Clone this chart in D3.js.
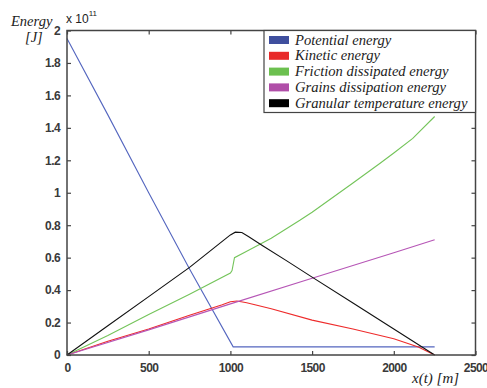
<!DOCTYPE html>
<html><head><meta charset="utf-8">
<script src="https://cdn.jsdelivr.net/npm/d3@7"></script>
<style>body{margin:0;background:#fff}svg{display:block}</style>
</head><body>
<svg id="c" width="487" height="388"></svg>
<script>
const xTicks = [0, 500, 1000, 1500, 2000, 2500];
const yTicks = [0, 0.2, 0.4, 0.6, 0.8, 1, 1.2, 1.4, 1.6, 1.8, 2];
const yTickLabels = ["0","0.2","0.4","0.6","0.8","1","1.2","1.4","1.6","1.8","2"];
const seriesNames = ["Potential energy","Kinetic energy","Friction dissipated energy","Grains dissipation energy","Granular temperature energy"];
const seriesColors = ["#5466bf","#ee2b2b","#74c45a","#b656b6","#111111"];
const legendColors = ["#3f4f9e","#e82a2a","#6cc04f","#b04ea8","#000000"];
// values in units of 1e11 J, x in m
const potential = [[0,1.95],[250,1.48],[500,1.0],[750,0.53],[1017,0.05],[1500,0.05],[2000,0.05],[2250,0.05]];
const kinetic = [[0,0],[250,0.085],[500,0.16],[750,0.245],[950,0.31],[1000,0.328],[1040,0.333],[1100,0.322],[1250,0.285],[1500,0.215],[1750,0.16],[2000,0.1],[2150,0.05],[2250,0]];
const friction = [[0,0],[250,0.12],[500,0.25],[750,0.375],[1000,0.505],[1010,0.52],[1025,0.6],[1100,0.64],[1250,0.72],[1425,0.83],[1500,0.88],[1750,1.06],[1914,1.18],[2000,1.245],[2116,1.335],[2250,1.47]];
const grains = [[0,0],[500,0.155],[1000,0.315],[1500,0.473],[2000,0.63],[2250,0.71]];
const granular = [[0,0],[250,0.18],[500,0.36],[750,0.54],[950,0.7],[1000,0.74],[1030,0.757],[1070,0.755],[1110,0.73],[1200,0.672],[1345,0.58],[1500,0.48],[1750,0.32],[2000,0.16],[2250,0]];
const allSeries = [potential, kinetic, friction, grains, granular];

const svg = d3.select("#c");
const L = 67, R = 475.5, T = 30.5, B = 355;
const x = d3.scaleLinear().domain([0,2500]).range([L,R]);
const y = d3.scaleLinear().domain([0,2]).range([B,T]);

const line = d3.line().x(d=>x(d[0])).y(d=>y(d[1]));
allSeries.forEach((s,i)=>{
  svg.append("path").attr("d", line(s)).attr("fill","none")
    .attr("stroke", seriesColors[i]).attr("stroke-width",1.1);
});

const axCol = "#444";
svg.append("rect").attr("x",L).attr("y",T).attr("width",R-L).attr("height",B-T)
  .attr("fill","none").attr("stroke",axCol).attr("stroke-width",1.5);

const tl = 4;
const xa = d3.axisBottom(x).tickValues(xTicks).tickSizeInner(-tl).tickSizeOuter(0).tickPadding(8).tickFormat(d3.format("d"));
const gx = svg.append("g").attr("transform",`translate(0,${B})`).call(xa);
const gxt = svg.append("g").attr("transform",`translate(0,${T})`).call(d3.axisTop(x).tickValues(xTicks).tickSizeInner(-tl).tickSizeOuter(0).tickFormat(""));
const ya = d3.axisLeft(y).tickValues(yTicks).tickSizeInner(-tl).tickSizeOuter(0).tickPadding(7).tickFormat((d,i)=>yTickLabels[i]);
const gy = svg.append("g").attr("transform",`translate(${L},0)`).call(ya);
const gyr = svg.append("g").attr("transform",`translate(${R},0)`).call(d3.axisRight(y).tickValues(yTicks).tickSizeInner(-tl).tickSizeOuter(0).tickFormat(""));
[gx,gxt,gy,gyr].forEach(g=>{
  g.select(".domain").remove();
  g.selectAll(".tick line").attr("stroke",axCol).attr("stroke-width",1.2);
  g.selectAll("text").attr("font-family","Liberation Sans, Arial, sans-serif")
    .attr("font-size",12).attr("font-weight","bold").attr("fill","#3a3a3a")
    .attr("letter-spacing",-0.6);
});
gx.selectAll(".tick text").attr("dy","0.71em");

const lg = svg.append("g");
const lx = 264, ly = T, lw = R - 264, lh = 82;
lg.append("rect").attr("x",lx).attr("y",ly).attr("width",lw).attr("height",lh)
  .attr("fill","#fff").attr("stroke",axCol).attr("stroke-width",1.2);
seriesNames.forEach((n,i)=>{
  const cy = ly + 9.5 + i*15.8;
  lg.append("rect").attr("x",269).attr("y",cy-4).attr("width",20).attr("height",8).attr("fill",legendColors[i]);
  lg.append("text").attr("x",295).attr("y",cy+4.5).text(n)
    .attr("font-family","Liberation Serif, Times New Roman, serif").attr("font-style","italic")
    .attr("font-size",14.6).attr("fill","#222");
});

const serif = "Liberation Serif, Times New Roman, serif";
svg.append("text").attr("x",11).attr("y",25.5).text("Energy")
  .attr("font-family",serif).attr("font-style","italic").attr("font-size",14.5).attr("fill","#222");
svg.append("text").attr("x",25).attr("y",41.5).text("[J]")
  .attr("font-family",serif).attr("font-style","italic").attr("font-size",14.5).attr("fill","#222");
const ex = svg.append("text").attr("x",66).attr("y",23)
  .attr("font-family","Liberation Sans, Arial, sans-serif").attr("font-size",12).attr("fill","#222");
ex.append("tspan").text("x 10");
ex.append("tspan").text("11").attr("font-size",8).attr("dy",-7);
svg.append("text").attr("x",412).attr("y",383).text("x(t) [m]")
  .attr("font-family",serif).attr("font-style","italic").attr("font-size",15).attr("fill","#222");
</script>
</body></html>
